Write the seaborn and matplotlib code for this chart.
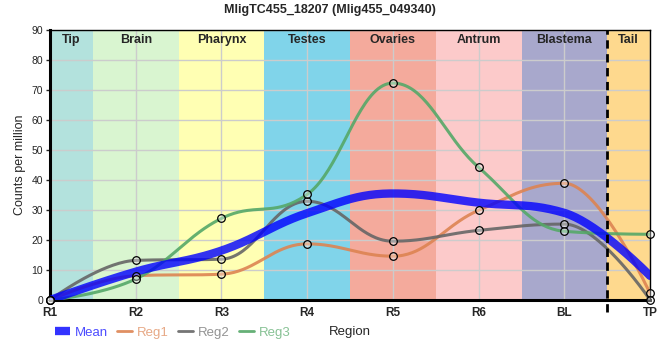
import numpy as np
import pandas as pd
import seaborn as sns
import matplotlib.pyplot as plt
from matplotlib.lines import Line2D

# values (counts per million)
positions = ["R1", "R2", "R3", "R4", "R5", "R6", "BL", "TP"]
reg1 = [0.0, 8.1, 8.6, 18.7, 14.6, 29.9, 38.9, 2.2]
reg2 = [0.0, 13.2, 13.6, 32.9, 19.6, 23.2, 25.3, 0.0]
reg3 = [0.0, 7.0, 27.2, 35.2, 72.3, 44.2, 22.9, 21.9]

regions = ["Tip", "Brain", "Pharynx", "Testes", "Ovaries", "Antrum", "Blastema", "Tail"]
region_edges = [0, 0.5, 1.5, 2.5, 3.5, 4.5, 5.5, 6.5, 7]
region_colors = ["#b3e2dd", "#d9f5d0", "#ffffb3", "#80d4ea",
                 "#f4aa9c", "#fccaca", "#a8a8cc", "#fed98e"]

title = "MligTC455_18207 (Mlig455_049340)"


def spline_curve(x, y, n=40, smoothing=1.5):
    # bezier spline through the points, flat at local extremes
    x = [float(v) for v in x]
    y = [float(v) for v in y]
    N = len(x)
    lc = [(x[i], y[i]) for i in range(N)]
    rc = [(x[i], y[i]) for i in range(N)]
    d = smoothing + 1
    for i in range(1, N - 1):
        lx, ly = x[i - 1], y[i - 1]
        px, py = x[i], y[i]
        nx, ny = x[i + 1], y[i + 1]
        lcx = (smoothing * px + lx) / d
        lcy = (smoothing * py + ly) / d
        rcx = (smoothing * px + nx) / d
        rcy = (smoothing * py + ny) / d
        corr = (rcy - lcy) * (rcx - px) / (rcx - lcx) + py - rcy
        lcy += corr
        rcy += corr
        if lcy > ly and lcy > py:
            lcy = max(ly, py)
            rcy = 2 * py - lcy
        elif lcy < ly and lcy < py:
            lcy = min(ly, py)
            rcy = 2 * py - lcy
        if rcy > ny and rcy > py:
            rcy = max(ny, py)
            lcy = 2 * py - rcy
        elif rcy < ny and rcy < py:
            rcy = min(ny, py)
            lcy = 2 * py - rcy
        lc[i] = (lcx, lcy)
        rc[i] = (rcx, rcy)
    xs, ys = [], []
    u = np.linspace(0, 1, n)
    for i in range(N - 1):
        p0 = np.array([x[i], y[i]])
        c1 = np.array(rc[i])
        c2 = np.array(lc[i + 1])
        p3 = np.array([x[i + 1], y[i + 1]])
        b = ((1 - u) ** 3)[:, None] * p0 + (3 * (1 - u) ** 2 * u)[:, None] * c1 \
            + (3 * (1 - u) * u ** 2)[:, None] * c2 + (u ** 3)[:, None] * p3
        xs.append(b[:, 0])
        ys.append(b[:, 1])
    return np.concatenate(xs), np.concatenate(ys)


x = np.arange(len(positions))
mean = np.mean([reg1, reg2, reg3], axis=0)

series = {"Reg1": reg1, "Reg2": reg2, "Reg3": reg3}
colors = {"Mean": "#0000ff", "Reg1": "#dd8452", "Reg2": "#666666", "Reg3": "#55a868"}

curves = []
for name, vals in list(series.items()) + [("Mean", mean)]:
    cx, cy = spline_curve(x, vals)
    curves.append(pd.DataFrame({"x": cx, "y": cy, "series": name}))
curves = pd.concat(curves, ignore_index=True)

points = pd.concat([pd.DataFrame({"x": x, "y": v, "series": k}) for k, v in series.items()],
                   ignore_index=True)

sns.set_theme(style="white")
plt.rcParams["font.family"] = ["Liberation Sans", "DejaVu Sans"]

fig, ax = plt.subplots(figsize=(6.6, 3.6), dpi=100)
fig.subplots_adjust(left=0.0758, right=0.985, top=0.9167, bottom=0.1667)

for i, reg in enumerate(regions):
    ax.axvspan(region_edges[i], region_edges[i + 1], color=region_colors[i], zorder=0, lw=0)
    ax.text((region_edges[i] + region_edges[i + 1]) / 2, 86.6, reg, ha="center", va="center",
            fontsize=9, fontweight="bold", zorder=5)

ax.set_axisbelow(True)
ax.grid(True, color="#cccccc", linewidth=1)

sns.lineplot(data=curves[curves.series != "Mean"], x="x", y="y", hue="series",
             palette=colors, linewidth=2.2, alpha=0.9, sort=False, legend=False, ax=ax, zorder=3)
sns.lineplot(data=curves[curves.series == "Mean"], x="x", y="y", color=colors["Mean"],
             linewidth=6, alpha=0.8, sort=False, legend=False, ax=ax, zorder=4)
sns.scatterplot(data=points, x="x", y="y", s=30, facecolor=(1, 1, 1, 0.35),
                edgecolor="black", linewidth=0.9, legend=False, ax=ax, zorder=6, clip_on=False)

ax.axvline(6.5, ymin=-0.045, ymax=1, color="black", linestyle=(0, (3, 2)), linewidth=2,
           zorder=5, clip_on=False)

ax.set_xlim(0, 7)
ax.set_ylim(0, 90)
ax.set_xticks(x)
ax.set_xticklabels(positions, fontsize=8.5, fontweight="bold")
ax.set_yticks(range(0, 91, 10))
ax.tick_params(axis="y", labelsize=7.5, pad=2, length=3, left=True, width=1)
ax.tick_params(axis="x", pad=5, length=0)
ax.set_ylabel("Counts per million", fontsize=9, labelpad=4)
ax.set_xlabel("Region", fontsize=9.5, labelpad=5)

for side in ["left", "bottom"]:
    ax.spines[side].set_linewidth(2.2)
    ax.spines[side].set_color("black")
for side in ["top", "right"]:
    ax.spines[side].set_linewidth(1)
    ax.spines[side].set_color("black")

# title is centred on the figure, not on the axes
ax.set_title(title, fontsize=9, fontweight="bold", pad=12.5, x=0.4667)

handles = [Line2D([], [], color=colors["Mean"], lw=6, alpha=0.8, solid_capstyle="butt")]
handles += [Line2D([], [], color=colors[k], lw=2, alpha=0.9) for k in series]
leg = ax.legend(handles, ["Mean"] + list(series), loc="upper left", bbox_to_anchor=(0.0, -0.08),
                ncol=4, frameon=False, fontsize=9.5, handlelength=1.1, handletextpad=0.4,
                columnspacing=0.7, borderaxespad=0)
for txt, k in zip(leg.get_texts(), ["Mean"] + list(series)):
    txt.set_color(colors[k])
    txt.set_alpha(0.7)

fig.savefig("out.png", dpi=100)
